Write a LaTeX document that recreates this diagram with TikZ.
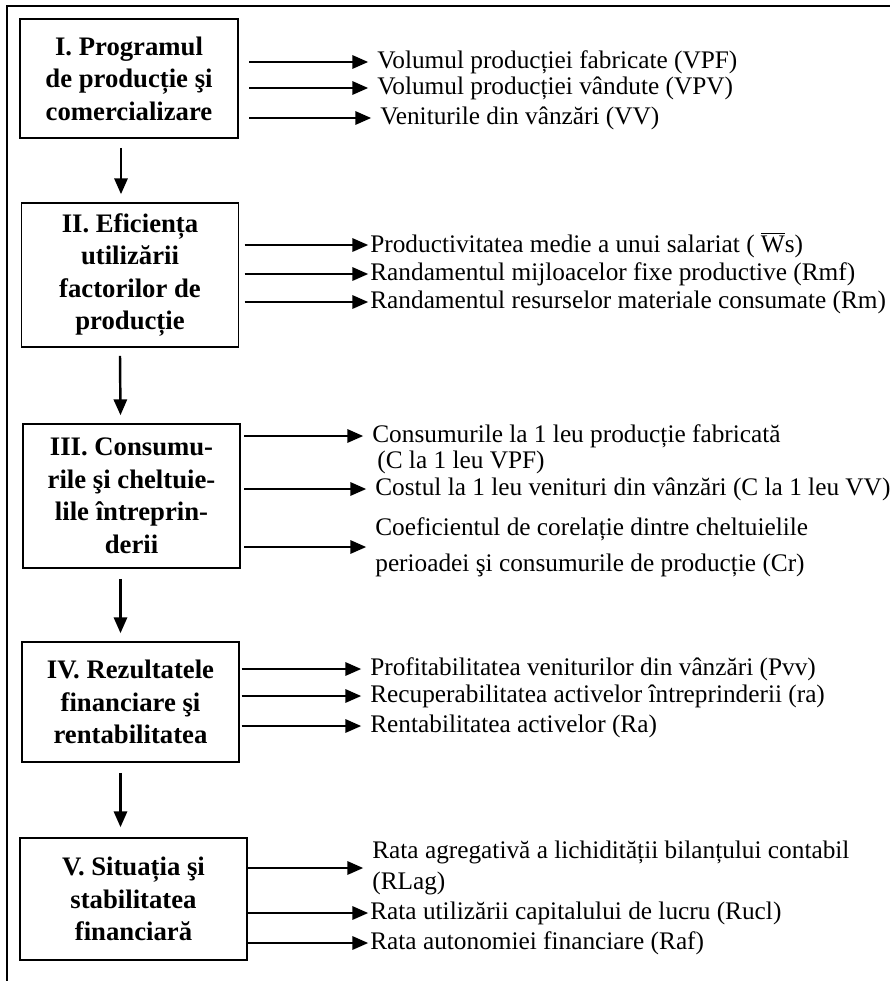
\documentclass[tikz,border=0pt]{standalone}
\usepackage{fontspec}
\setmainfont{Liberation Serif}
\usepackage{tikz}
\usetikzlibrary{arrows.meta, calc}

\begin{document}
\begin{tikzpicture}[
    x=0.02cm, y=-0.02cm,
    block/.style={rectangle, draw, line width=0.9pt, align=center, inner sep=2pt, font=\fontsize{15.2}{18.5}\selectfont\bfseries},
    item/.style={anchor=west, inner sep=0pt, align=left, font=\fontsize{14.4}{17.5}\selectfont},
    arrow/.style={-{Triangle[length=9pt, width=7.5pt]}, line width=1.4pt},
    sidearrow/.style={arrow, shorten <=3pt, shorten >=5pt}
]
\useasboundingbox (0,0) rectangle (890,981);
\draw[line width=1.5pt] (7,981) -- (7,6) -- (890,6);
% blocks
\node[block, minimum width=218*0.02cm, minimum height=119*0.02cm] (prog) at (129,78.5) {I. Programul\\de producție şi\\comercializare};
\node[block, minimum width=217*0.02cm, minimum height=144*0.02cm] (efic) at (130,275) {II. Eficiența\\utilizării\\factorilor de\\producție};
\node[block, minimum width=217*0.02cm, minimum height=144*0.02cm] (cons) at (131.5,496) {III. Consumu-\\rile şi cheltuie-\\lile întreprin-\\derii};
\node[block, minimum width=217*0.02cm, minimum height=120*0.02cm] (rez) at (130.5,702) {IV. Rezultatele\\financiare şi\\rentabilitatea};
\node[block, minimum width=227*0.02cm, minimum height=122*0.02cm] (sit) at (133.5,899) {V. Situația şi\\stabilitatea\\financiară};
% indicators
\node[item] (vpf) at (377,62) {Volumul producției fabricate (VPF)};
\node[item] (vpv) at (377,88) {Volumul producției vândute (VPV)};
\node[item] (vv) at (380,118) {Veniturile din vânzări (VV)};
\node[item] (ws) at (370,245) {Productivitatea medie a unui salariat ( $\overline{\mbox{W}}$s)};
\node[item] (rmf) at (370,274) {Randamentul mijloacelor fixe productive (Rmf)};
\node[item] (rm) at (370,302) {Randamentul resurselor materiale consumate (Rm)};
\node[item] (cvpf) at (372,436) {Consumurile la 1 leu producție fabricată};
\node[item] (cvpf2) at (377,462) {(C la 1 leu VPF)};
\node[item] (cvv) at (375,489) {Costul la 1 leu venituri din vânzări (C la 1 leu VV)};
\node[item] (cr) at (375,547) {Coeficientul de corelație dintre cheltuielile\\[3pt]perioadei şi consumurile de producție (Cr)};
\node[item] (pvv) at (370,669) {Profitabilitatea veniturilor din vânzări (Pvv)};
\node[item] (ra) at (370,696) {Recuperabilitatea activelor întreprinderii (ra)};
\node[item] (rak) at (370,726) {Rentabilitatea activelor (Ra)};
\node[item] (rlag) at (372,868) {Rata agregativă a lichidității bilanțului contabil\\(RLag)};
\node[item] (rucl) at (370,913) {Rata utilizării capitalului de lucru (Rucl)};
\node[item] (raf) at (370,943) {Rata autonomiei financiare (Raf)};
% side arrows
\draw[sidearrow, shorten <=6pt] (prog.east |- vpf) -- (vpf.west);
\draw[sidearrow, shorten <=6pt] (prog.east |- vpv) -- (vpv.west);
\draw[sidearrow, shorten <=6pt] (prog.east |- vv) -- (vv.west);
\draw[sidearrow, shorten >=1pt] (efic.east |- ws) -- (ws.west);
\draw[sidearrow, shorten >=1pt] (efic.east |- rmf) -- (rmf.west);
\draw[sidearrow, shorten >=1pt] (efic.east |- rm) -- (rm.west);
\draw[sidearrow, shorten <=2pt] (cons.east |- cvpf) -- (cvpf.west);
\draw[sidearrow, shorten <=2pt] (cons.east |- cvv) -- (cvv.west);
\draw[sidearrow, shorten <=2pt] (cons.east |- cr) -- (cr.west);
\draw[sidearrow, shorten <=1pt] (rez.east |- pvv) -- (pvv.west);
\draw[sidearrow, shorten <=1pt] (rez.east |- ra) -- (ra.west);
\draw[sidearrow, shorten <=1pt] (rez.east |- rak) -- (rak.west);
\draw[sidearrow, shorten <=-1pt] (sit.east |- rlag) -- (rlag.west);
\draw[sidearrow, shorten <=-1pt, shorten >=1pt] (sit.east |- rucl) -- (rucl.west);
\draw[sidearrow, shorten <=-1pt, shorten >=1pt] (sit.east |- raf) -- (raf.west);
% flow down
\draw[arrow] ($(prog.south)+(-8,9)$) -- ($(efic.north)+(-9,-8)$);
\draw[arrow] ($(efic.south)+(-10,8)$) -- ($(cons.north)+(-11,-8)$);
\draw[arrow] ($(cons.south)+(-11,10)$) -- ($(rez.north)+(-10,-8)$);
\draw[arrow] ($(rez.south)+(-10,10)$) -- ($(sit.north)+(-13,-10)$);
\end{tikzpicture}
\end{document}
